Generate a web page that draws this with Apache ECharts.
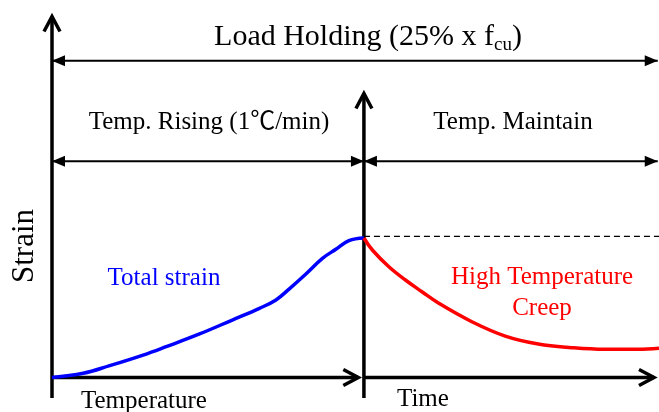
<!DOCTYPE html>
<html><head><meta charset="utf-8">
<script src="https://cdn.jsdelivr.net/npm/echarts@6/dist/echarts.min.js"></script>
<style>html,body{margin:0;padding:0;background:#fff}#c{width:659px;height:412px}</style>
</head><body><div id="c"></div>
<script>
// x: normalized process coordinate (0..1 = temperature rising phase, >1 = time at constant temperature)
const riseX = [0, 0.100, 0.185, 0.292, 0.366, 0.473, 0.578, 0.665, 0.718, 0.760, 0.814, 0.867, 0.910, 0.952, 1.0];
const totalStrain = [0, 0.030, 0.085, 0.161, 0.221, 0.312, 0.412, 0.496, 0.556, 0.634, 0.742, 0.854, 0.919, 0.981, 1.0];
const holdX = [1.0, 1.027, 1.080, 1.133, 1.186, 1.240, 1.346, 1.453, 1.559, 1.665, 1.772, 1.879, 1.946];
const creepStrain = [1.0, 0.914, 0.794, 0.699, 0.615, 0.532, 0.400, 0.297, 0.240, 0.214, 0.202, 0.202, 0.209];
const phaseBounds = [0, 1, 1.946];
const peakLevel = 1.012;
const spanLevels = [2.271, 1.55];   // load holding span, phase spans
// axis arrows: [x1, y1, x2, y2]
const axisArrows = [[0, -0.147, 0, 2.588], [1, -0.147, 1, 2.036], [0, 0, 0.982, 0], [1, 0, 1.930, 0]];
const labels = {
  title: 'Load Holding (25% x f', sub: 'cu',
  rise: 'Temp. Rising (1℃/min)', maintain: 'Temp. Maintain',
  total: 'Total strain', creep: 'High Temperature\nCreep',
  yName: 'Strain', xTemp: 'Temperature', xTime: 'Time'
};

const spanArrows = [
  [phaseBounds[0], spanLevels[0], 1.942, spanLevels[0]],
  [phaseBounds[0], spanLevels[1], phaseBounds[1], spanLevels[1]],
  [phaseBounds[1], spanLevels[1], 1.942, spanLevels[1]]
];

const FONT = "'Liberation Serif','Times New Roman','Noto Sans CJK SC',serif";

function arrowRender(kind) {
  return function (params, api) {
    const p1 = api.coord([api.value(0), api.value(1)]);
    const p2 = api.coord([api.value(2), api.value(3)]);
    const dx = p2[0] - p1[0], dy = p2[1] - p1[1];
    const L = Math.hypot(dx, dy), ux = dx / L, uy = dy / L, nx = -uy, ny = ux;
    const ch = [];
    if (kind === 'axis') {
      ch.push({type: 'line', shape: {x1: p1[0], y1: p1[1], x2: p2[0], y2: p2[1]}, style: {stroke: '#000', lineWidth: 3.5}});
      const hl = 15, hw = 8;
      ch.push({type: 'polyline', shape: {points: [
        [p2[0] - ux * hl + nx * hw, p2[1] - uy * hl + ny * hw], [p2[0], p2[1]],
        [p2[0] - ux * hl - nx * hw, p2[1] - uy * hl - ny * hw]]},
        style: {stroke: '#000', lineWidth: 3.5, fill: null, lineJoin: 'miter'}});
    } else {
      ch.push({type: 'line', shape: {x1: p1[0], y1: p1[1], x2: p2[0], y2: p2[1]}, style: {stroke: '#000', lineWidth: 2}});
      const hl = 13, hw = 5.5;
      [[p1, -1], [p2, 1]].forEach(([p, s]) => {
        const bx = p[0] - s * ux * hl, by = p[1] - s * uy * hl;
        ch.push({type: 'polygon', shape: {points: [[p[0], p[1]], [bx + nx * hw, by + ny * hw], [bx - nx * hw, by - ny * hw]]},
          style: {fill: '#000'}});
      });
    }
    return {type: 'group', children: ch};
  };
}

const chart = echarts.init(document.getElementById('c'), null, {renderer: 'canvas'});
chart.setOption({
  animation: false,
  backgroundColor: '#fff',
  grid: {left: 52, width: 609, top: 13, bottom: 14},
  xAxis: {type: 'value', min: 0, max: 1.946, show: false},
  yAxis: {type: 'value', min: -0.147, max: 2.613, show: false},
  series: [
    {type: 'custom', renderItem: arrowRender('axis'), data: axisArrows, silent: true, z: 3},
    {type: 'custom', renderItem: arrowRender('span'), data: spanArrows, silent: true, z: 3},
    {type: 'line', data: [[phaseBounds[1], peakLevel], [phaseBounds[2], peakLevel]], showSymbol: false,
      lineStyle: {color: '#000', width: 1.3, type: [6, 4]}, z: 2},
    {type: 'line', data: riseX.map((x, i) => [x, totalStrain[i]]), smooth: 0.4, showSymbol: false,
      lineStyle: {color: '#0000ff', width: 3.5}, z: 4},
    {type: 'line', data: holdX.map((x, i) => [x, creepStrain[i]]), smooth: 0.4, showSymbol: false,
      lineStyle: {color: '#ff0000', width: 3.5}, z: 4}
  ],
  graphic: [
    {type: 'text', x: 368, y: 37, style: {
      text: '{a|' + labels.title + '}{b|' + labels.sub + '}{a|)}', align: 'center', verticalAlign: 'middle',
      rich: {a: {fontFamily: FONT, fontSize: 30, lineHeight: 35, fill: '#000'},
             b: {fontFamily: FONT, fontSize: 19, lineHeight: 19, verticalAlign: 'bottom', fill: '#000'}}}},
    {type: 'text', x: 209, y: 122, style: {text: labels.rise, font: '25px ' + FONT, fill: '#000', align: 'center', verticalAlign: 'middle'}},
    {type: 'text', x: 513, y: 122, style: {text: labels.maintain, font: '25px ' + FONT, fill: '#000', align: 'center', verticalAlign: 'middle'}},
    {type: 'text', x: 164, y: 278, style: {text: labels.total, font: '25px ' + FONT, fill: '#0000ff', align: 'center', verticalAlign: 'middle'}},
    {type: 'text', x: 542, y: 293, style: {text: labels.creep, font: '25px ' + FONT, lineHeight: 31, fill: '#ff0000', align: 'center', verticalAlign: 'middle'}},
    {type: 'text', x: 25, y: 246, rotation: Math.PI / 2, style: {text: labels.yName, font: '31px ' + FONT, fill: '#000', align: 'center', verticalAlign: 'middle'}},
    {type: 'text', x: 81, y: 401, style: {text: labels.xTemp, font: '25px ' + FONT, fill: '#000', align: 'left', verticalAlign: 'middle'}},
    {type: 'text', x: 397, y: 399, style: {text: labels.xTime, font: '25px ' + FONT, fill: '#000', align: 'left', verticalAlign: 'middle'}}
  ]
});
</script></body></html>
